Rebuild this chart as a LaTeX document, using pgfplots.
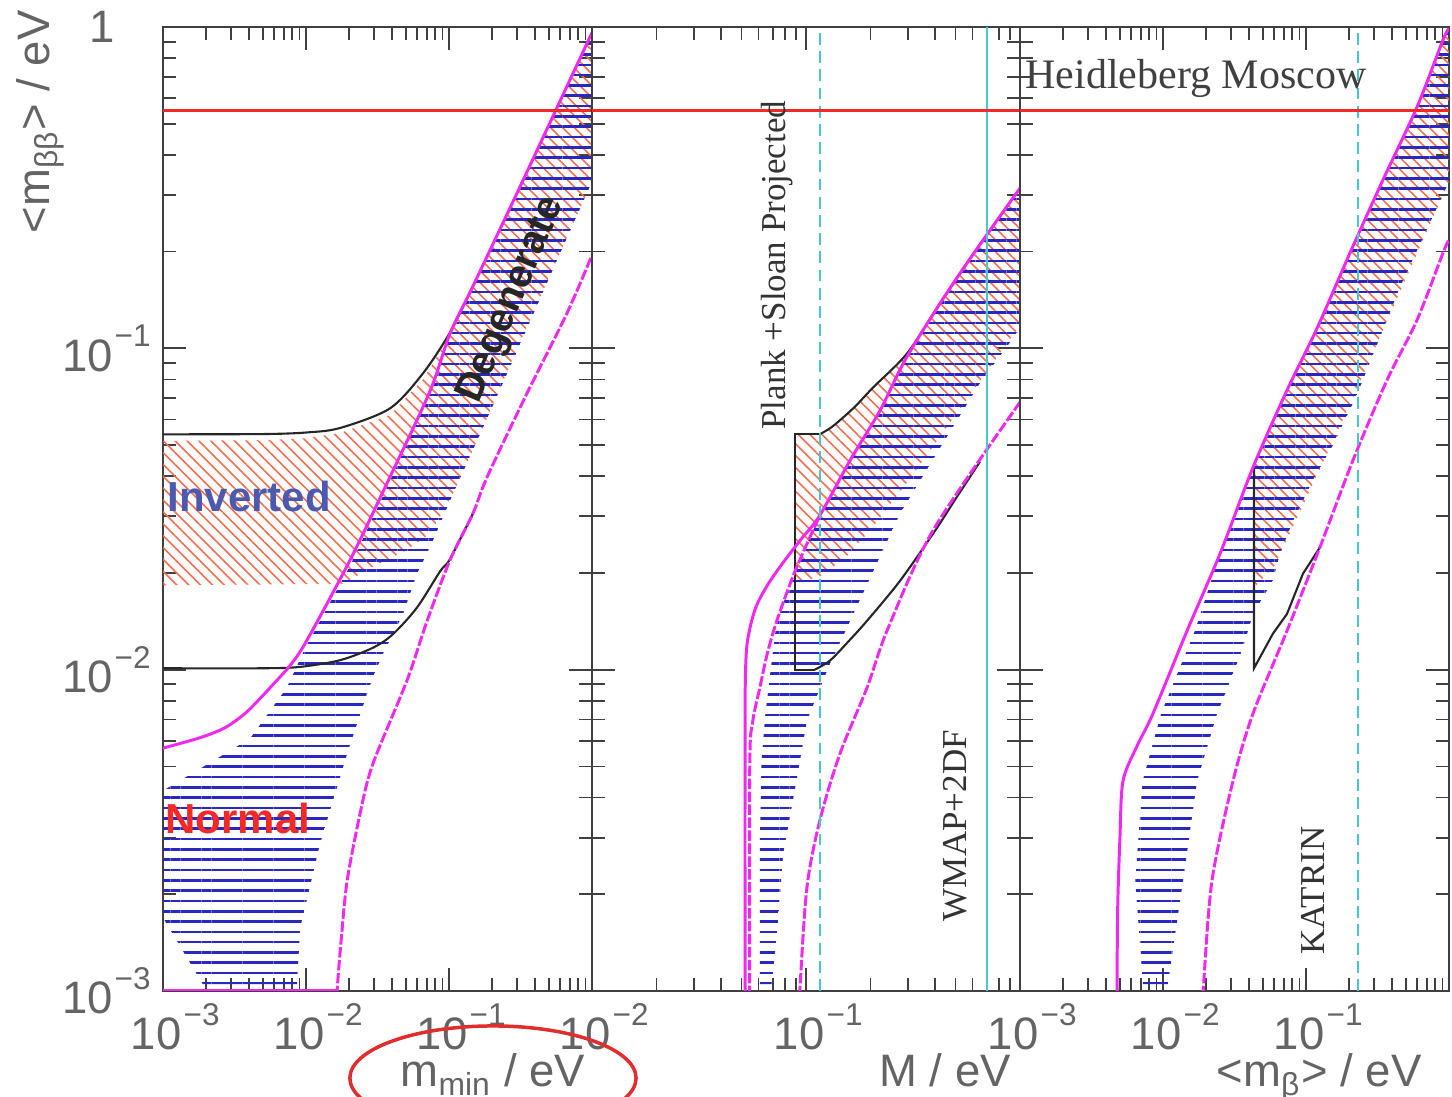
\documentclass[border=0pt]{standalone}
\usepackage{fontspec}
\setmainfont{Liberation Sans}
\newfontfamily\serif{Liberation Serif}
\usepackage{pgfplots}
\pgfplotsset{compat=1.18}
\usetikzlibrary{patterns.meta}
\definecolor{mag}{RGB}{240,40,240}
\definecolor{hblue}{RGB}{40,40,190}
\definecolor{hred}{RGB}{245,110,80}
\definecolor{cy}{RGB}{70,200,205}
\definecolor{hmred}{RGB}{245,40,40}
\definecolor{lab}{RGB}{100,100,100}
\definecolor{invcol}{RGB}{75,90,175}
\definecolor{ellc}{RGB}{225,45,45}
\newcommand\pw[1]{10\kern0.6pt\raisebox{7pt}{\fontsize{9}{9}\selectfont −#1}}
\pgfplotsset{
 hatchB/.style={draw=none, pattern={Lines[angle=0,distance=2.95pt,line width=0.75pt]}, pattern color=hblue},
 hatchR/.style={draw=none, pattern={Lines[angle=-45,distance=2.4pt,line width=0.45pt]}, pattern color=hred},
 magS/.style={mag, line width=0.85pt},
 magD/.style={mag, line width=0.85pt, dash pattern=on 3pt off 0.7pt},
 blk/.style={black!85, line width=0.6pt},
 hm/.style={hmred, line width=0.85pt},
}
\pgfplotsset{every axis/.append style={scale only axis, height=275.52pt, ymin=1e-3, ymax=1, anchor=south west,
   axis line style={line width=0.7pt, black!75},
   every tick/.style={line width=0.5pt, black!75},
   major tick length=6.5pt, minor tick length=3.7pt,
   tick label style={font=\fontsize{13}{13}\selectfont, text=lab},
   xticklabel style={xshift=3.5pt},
   ytick={1e-3,1e-2,1e-1,1},
   minor ytick={2e-3,3e-3,4e-3,5e-3,6e-3,7e-3,8e-3,9e-3,2e-2,3e-2,4e-2,5e-2,6e-2,7e-2,8e-2,9e-2,0.2,0.3,0.4,0.5,0.6,0.7,0.8,0.9},
 }}
\begin{document}
\begin{tikzpicture}
\path[use as bounding box] (0,0) rectangle (415pt,313.53pt);
% ---------------- panel 1 ----------------
\begin{axis}[xmode=log, ymode=log, at={(46.59pt,30.30pt)}, width=122.61pt, xmin=1e-3, xmax=1,
  xtick={1e-3,1e-2,1e-1,1}, xticklabels={\pw{3},\pw{2},\pw{1},{}},
  minor xtick={2e-3,3e-3,4e-3,5e-3,6e-3,7e-3,8e-3,9e-3,2e-2,3e-2,4e-2,5e-2,6e-2,7e-2,8e-2,9e-2,0.2,0.3,0.4,0.5,0.6,0.7,0.8,0.9},
  yticklabels={\pw{3},\pw{2},\pw{1},1\phantom{\fontsize{9}{9}\selectfont −1}}]
\addplot[hatchR] coordinates {(1e-3,0.0515)(0.005,0.0518)(0.01,0.0525)(0.0173,0.0545)(0.0386,0.062)(0.0658,0.08)(0.1016,0.11)(0.147,0.155)(0.3,0.305)(0.6,0.59)(1,0.96)(1,0.33)(0.3,0.1)(0.173,0.0567)(0.1067,0.0353)(0.0736,0.0265)(0.05,0.0235)(0.03,0.021)(0.018,0.0185)(1e-3,0.0183)} --cycle;
\addplot[hatchB] coordinates {(1e-3,0.0042)(0.00224,0.0052)(0.00406,0.0061)(0.00736,0.0088)(0.01,0.0118)(0.0203,0.021)(0.0386,0.0385)(0.0736,0.0725)(0.1016,0.108)(0.147,0.154)(0.3,0.304)(0.6,0.588)(1,0.96)(1,0.33)(0.569,0.188)(0.281,0.092)(0.173,0.0567)(0.1067,0.0353)(0.0736,0.024)(0.0597,0.0199)(0.0477,0.0149)(0.0406,0.0129)(0.0345,0.0112)(0.0294,0.0095)(0.0245,0.0075)(0.0197,0.0056)(0.01253,0.00287)(0.0091,0.00157)(0.00865,0.00105)(0.0019,0.00105)(1e-3,0.00169)} --cycle;
\addplot[blk, smooth] coordinates {(1e-3,0.054)(0.005,0.0541)(0.01,0.0547)(0.0173,0.0565)(0.0386,0.065)(0.0658,0.0836)(0.1016,0.112)(0.147,0.156)};
\addplot[blk, smooth] coordinates {(1e-3,0.0101)(0.005,0.0101)(0.0091,0.0102)(0.0173,0.0107)(0.0294,0.0117)(0.0406,0.0129)(0.0597,0.0156)(0.0865,0.0202)(0.1016,0.0221)(0.147,0.0306)};
\addplot[magS, smooth] coordinates {(1e-3,0.0057)(0.001815,0.00614)(0.00272,0.0066)(0.00374,0.0073)(0.00477,0.00813)(0.00587,0.00898)(0.00773,0.0103)(0.01,0.0122)(0.0203,0.0219)(0.0386,0.0397)(0.0736,0.0735)(0.1016,0.111)(0.147,0.156)(0.3,0.305)(0.6,0.59)(1,0.96)};
\addplot[magD, smooth] coordinates {(0.0162,0.0008)(0.0165,0.001)(0.0176,0.00143)(0.0194,0.0022)(0.024,0.0036)(0.0294,0.0051)(0.0508,0.00924)(0.07,0.0141)(0.1016,0.0219)(0.147,0.0306)(0.1845,0.0397)(0.351,0.0724)(0.668,0.1285)(1,0.195)};
\addplot[magS] coordinates {(1e-3,0.001)(0.0165,0.001)};
\addplot[hm] coordinates {(1e-3,0.55)(1,0.55)};
\node[font=\bfseries\fontsize{12}{12}\selectfont, text=invcol] at (axis cs:0.004,0.0346) {Inverted};
\node[font=\bfseries\fontsize{12}{12}\selectfont, text=hmred] at (axis cs:0.00334,0.00344) {Normal};
\node[rotate=67, font=\bfseries\fontsize{11.5}{11.5}\selectfont, text=black!85] at (axis cs:0.276,0.141) {Degenerate};
\end{axis}
% ---------------- panel 2 ----------------
\begin{axis}[xmode=log, ymode=log, at={(169.20pt,30.30pt)}, width=122.33pt, xmin=1e-2, xmax=1,
  xtick={1e-2,1e-1,1}, xticklabels={\pw{2},\pw{1},{}},
  minor xtick={2e-2,3e-2,4e-2,5e-2,6e-2,7e-2,8e-2,9e-2,0.2,0.3,0.4,0.5,0.6,0.7,0.8,0.9},
  yticklabels={,,,}]
\addplot[hatchR] coordinates {(0.089,0.0185)(0.089,0.054)(0.116,0.054)(0.13,0.0565)(0.144,0.0597)(0.17,0.066)(0.206,0.0756)(0.297,0.0965)(0.423,0.138)(0.603,0.196)(1,0.315)(1,0.118)(0.5,0.062)(0.3,0.0386)(0.2,0.0272)(0.15,0.022)(0.116,0.0195)} --cycle;
\addplot[hatchB] coordinates {(0.0609,0.00105)(0.0609,0.003)(0.062,0.0052)(0.0645,0.0072)(0.069,0.0105)(0.0731,0.0142)(0.089,0.0203)(0.116,0.0302)(0.1607,0.0448)(0.222,0.0641)(0.29,0.0918)(0.423,0.138)(0.603,0.196)(1,0.315)(1,0.115)(0.65,0.078)(0.423,0.049)(0.275,0.0306)(0.1268,0.0101)(0.101,0.00694)(0.089,0.00428)(0.0782,0.00267)(0.074,0.00165)(0.0702,0.00115)(0.069,0.00105)} --cycle;
\addplot[blk] coordinates {(0.110,0.01)(0.089,0.01)(0.089,0.054)(0.116,0.054)};
\addplot[blk, smooth] coordinates {(0.116,0.054)(0.13,0.0565)(0.144,0.0597)(0.17,0.066)(0.206,0.0756)(0.297,0.0965)(0.423,0.138)(0.603,0.196)(1,0.315)};
\addplot[blk, smooth] coordinates {(0.110,0.01)(0.13,0.0107)(0.1607,0.0124)(0.193,0.0142)(0.275,0.0189)(0.4,0.027)(0.5,0.034)(0.65,0.0444)};
\addplot[magS, smooth] coordinates {(0.0519,0.0008)(0.0519,0.006)(0.0522,0.010)(0.0535,0.0125)(0.058,0.0155)(0.066,0.0183)(0.078,0.0215)(0.095,0.0255)(0.116,0.0302)(0.1607,0.0448)(0.222,0.0641)(0.29,0.0918)(0.423,0.138)(0.603,0.196)(1,0.315)};
\addplot[magD, smooth] coordinates {(0.0546,0.0008)(0.0546,0.005)(0.0564,0.0069)(0.0609,0.0088)(0.0659,0.0112)(0.0731,0.0142)(0.089,0.0203)(0.116,0.0302)};
\addplot[magD, smooth] coordinates {(0.092,0.0008)(0.0937,0.00102)(0.101,0.0021)(0.116,0.00339)(0.144,0.00547)(0.193,0.0088)(0.239,0.0132)(0.392,0.0271)(1,0.068)};
\addplot[cy, line width=0.6pt, dash pattern=on 3.4pt off 1.8pt] coordinates {(0.116,1e-3)(0.116,1)};
\addplot[cy, line width=0.6pt] coordinates {(0.70,1e-3)(0.70,1)};
\addplot[hm] coordinates {(1e-2,0.55)(1,0.55)};
\node[rotate=90, font=\serif\fontsize{10}{10}\selectfont, text=black!80] at (axis cs:0.0731,0.1815) {Plank +Sloan Projected};
\node[rotate=90, font=\serif\fontsize{10}{10}\selectfont, text=black!80] at (axis cs:0.497,0.00327) {WMAP+2DF};
\end{axis}
% ---------------- panel 3 ----------------
\begin{axis}[xmode=log, ymode=log, at={(291.53pt,30.30pt)}, width=122.61pt, xmin=1e-3, xmax=1,
  xtick={1e-3,1e-2,1e-1,1}, xticklabels={\pw{3},\pw{2},\pw{1},{}},
  minor xtick={2e-3,3e-3,4e-3,5e-3,6e-3,7e-3,8e-3,9e-3,2e-2,3e-2,4e-2,5e-2,6e-2,7e-2,8e-2,9e-2,0.2,0.3,0.4,0.5,0.6,0.7,0.8,0.9},
  yticklabels={,,,}]
\addplot[hatchR] coordinates {(0.0433,0.018)(0.0433,0.0433)(0.0736,0.074)(0.119,0.115)(0.203,0.198)(0.345,0.334)(0.597,0.563)(0.908,0.911)(1,0.99)(1,0.33)(0.2,0.066)(0.1,0.034)(0.06,0.021)} --cycle;
\addplot[hatchB] coordinates {(0.00724,0.00105)(0.0064,0.0022)(0.0072,0.0045)(0.0097,0.0073)(0.0167,0.0132)(0.0251,0.023)(0.0426,0.0426)(0.0736,0.074)(0.119,0.115)(0.203,0.198)(0.345,0.334)(0.597,0.563)(0.908,0.911)(1,0.99)(1,0.33)(0.454,0.155)(0.228,0.072)(0.1545,0.05)(0.112,0.039)(0.0811,0.029)(0.0658,0.023)(0.0587,0.019)(0.0426,0.0149)(0.0362,0.0117)(0.0294,0.0092)(0.0239,0.0073)(0.0173,0.0045)(0.0138,0.0022)(0.0108,0.00105)} --cycle;
\addplot[blk] coordinates {(0.0433,0.043)(0.0433,0.0101)(0.0587,0.01294)(0.0736,0.0149)(0.0953,0.0199)(0.125,0.024)};
\addplot[magS, smooth] coordinates {(0.00477,0.0008)(0.00477,0.001)(0.00482,0.0018)(0.005,0.003)(0.00525,0.0045)(0.0066,0.0058)(0.00851,0.0073)(0.01472,0.0132)(0.0251,0.023)(0.0426,0.0426)(0.0736,0.074)(0.119,0.115)(0.203,0.198)(0.345,0.334)(0.597,0.563)(0.908,0.911)(1,0.99)};
\addplot[magD, smooth] coordinates {(0.0186,0.0008)(0.0191,0.001)(0.022,0.0022)(0.0309,0.00451)(0.0426,0.0073)(0.0736,0.0132)(0.125,0.024)(0.213,0.0448)(0.368,0.0795)(0.597,0.1223)(0.908,0.198)(1,0.218)};
\addplot[cy, line width=0.6pt, dash pattern=on 3.4pt off 1.8pt] coordinates {(0.23,1e-3)(0.23,1)};
\addplot[hm] coordinates {(1e-3,0.55)(1,0.55)};
\node[anchor=west, font=\serif\fontsize{12}{12}\selectfont, text=black!75, inner sep=0pt] at (axis cs:0.00108,0.69) {Heidleberg Moscow};
\node[rotate=90, font=\serif\fontsize{10}{10}\selectfont, text=black!80] at (axis cs:0.112,0.00205) {KATRIN};
\end{axis}
% ---------------- labels ----------------
\node[rotate=90, font=\fontsize{13}{13}\selectfont, text=lab] at (11.5pt,278.7pt) {<m\textsubscript{ββ}> / eV};
\node[anchor=base, font=\fontsize{13}{13}\selectfont, text=lab] at (140.9pt,2.9pt) {m\textsubscript{min} / eV};
\node[anchor=base, font=\fontsize{13}{13}\selectfont, text=lab] at (270.1pt,2.9pt) {M / eV};
\node[anchor=base, font=\fontsize{13}{13}\selectfont, text=lab] at (377.0pt,2.9pt) {<m\textsubscript{β}> / eV};
\draw[ellc, line width=1pt] (140.9pt,5.4pt) ellipse [x radius=40.9pt, y radius=14.9pt];
\end{tikzpicture}
\end{document}
